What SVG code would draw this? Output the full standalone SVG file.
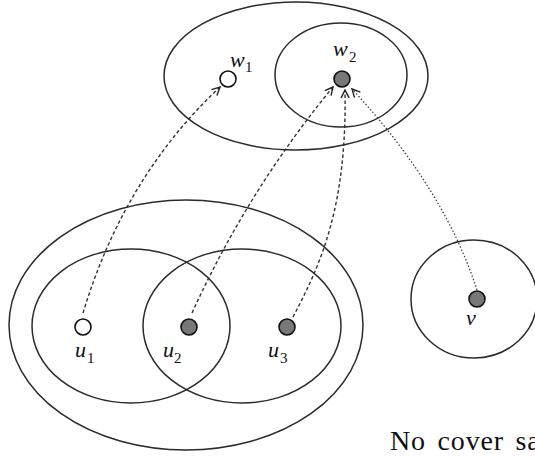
<svg xmlns="http://www.w3.org/2000/svg" width="535" height="460" viewBox="0 0 535 460">
<style>
.set{fill:none;stroke:#2b2b2b;stroke-width:1.5}
.nodew{fill:#fff;stroke:#111;stroke-width:1.6}
.nodeg{fill:#787878;stroke:#111;stroke-width:1.6}
.lbl{font-family:"Liberation Serif",serif;font-style:italic;font-size:22px;fill:#111}
.sub{font-family:"Liberation Serif",serif;font-size:15px;fill:#111}
.dash{fill:none;stroke:#333;stroke-width:1.4;stroke-dasharray:3.5 2.5}
.dot{fill:none;stroke:#444;stroke-width:1.3;stroke-dasharray:1.5 2}
</style>
<defs>
<marker id="ah" viewBox="0 0 10 10" refX="9" refY="5" markerWidth="10" markerHeight="10" markerUnits="userSpaceOnUse" orient="auto">
<path d="M1,1 L9,5 L1,9" fill="none" stroke="#222" stroke-width="1.4"/>
</marker>
</defs>
<g id="sets">
<ellipse id="setW" class="set" cx="296" cy="76" rx="132" ry="74"/>
<ellipse id="setW2" class="set" cx="341" cy="75" rx="66" ry="52"/>
<ellipse id="setU" class="set" cx="186" cy="325" rx="177" ry="125"/>
<ellipse id="setU1" class="set" cx="131" cy="326" rx="99" ry="77"/>
<ellipse id="setU2" class="set" cx="242" cy="326" rx="99" ry="77"/>
<ellipse id="setV" class="set" cx="474" cy="299" rx="63" ry="59"/>
</g>
<g id="connectors">
<path class="dash" d="M83,313 Q124,177 220,87" marker-end="url(#ah)"/>
<path class="dash" d="M192,313 Q248,190 333,87" marker-end="url(#ah)"/>
<path class="dash" d="M293,317 C322,262 347,205 345,90" marker-end="url(#ah)"/>
<path class="dot" d="M477,290 Q444,188 352,89" marker-end="url(#ah)"/>
</g>
<g id="w1"><circle class="nodew" cx="228" cy="79" r="8"/><text class="lbl" x="230" y="67">w</text><text class="sub" x="245" y="72">1</text></g>
<g id="w2"><circle class="nodeg" cx="342" cy="79" r="8"/><text class="lbl" x="333" y="56">w</text><text class="sub" x="349" y="62">2</text></g>
<g id="u1"><circle class="nodew" cx="83" cy="327" r="8"/><text class="lbl" x="75" y="357">u</text><text class="sub" x="87" y="363">1</text></g>
<g id="u2"><circle class="nodeg" cx="189" cy="327" r="8"/><text class="lbl" x="163" y="357">u</text><text class="sub" x="174" y="363">2</text></g>
<g id="u3"><circle class="nodeg" cx="287" cy="327" r="8"/><text class="lbl" x="268" y="357">u</text><text class="sub" x="280" y="363">3</text></g>
<g id="v"><circle class="nodeg" cx="477" cy="299" r="8"/><text class="lbl" x="466" y="325">v</text></g>
<text x="390" y="450" font-family="Liberation Serif, serif" font-size="28" fill="#111" word-spacing="4" letter-spacing="0.8">No cover sa</text>
</svg>
